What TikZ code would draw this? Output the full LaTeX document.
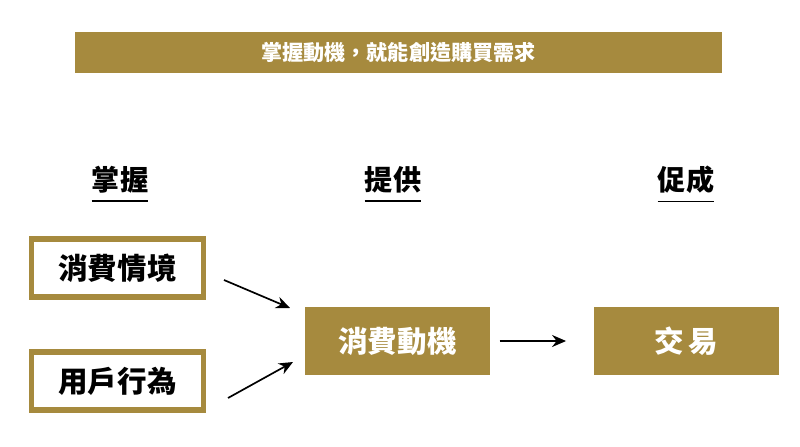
\documentclass[tikz,border=0pt]{standalone}
\usepackage{fontspec}
\setmainfont{Noto Sans CJK TC}
\usetikzlibrary{positioning,arrows.meta}
\definecolor{gold}{HTML}{A68A3E}
\tikzset{
  outbox/.style={draw=gold, line width=3.6pt, minimum width=4.3cm, minimum height=1.45cm, font=\bfseries\fontsize{21}{24}\selectfont},
  fillbox/.style={fill=gold, text=white, minimum width=4.6cm, minimum height=1.7cm, font=\bfseries\fontsize{21}{24}\selectfont},
  head/.style={font=\bfseries\fontsize{20}{24}\selectfont, inner xsep=0pt},
  arr/.style={-{Stealth[length=3.5mm,width=3mm]}, line width=1.2pt}
}
\begin{document}
\begin{tikzpicture}[x=0.025cm,y=-0.025cm]
    \useasboundingbox (0,0) rectangle (800,446);
    \node [fill=gold, text=white, minimum width=16.175cm, minimum height=1.02cm, font=\bfseries\fontsize{15}{18}\selectfont] (banner) at (398.5,52.5) {掌握動機，就能創造購買需求};

    \node [head] (h1) at (120,180) {掌握};
    \node [head] (h2) at (393,180) {提供};
    \node [head] (h3) at (686,180) {促成};
    \foreach \h in {h1,h2,h3}
        \draw [line width=1.2pt] ([yshift=-2pt]\h.south west) -- ([yshift=-2pt]\h.south east);

    \node [outbox] (scene) at (117.5,268) {消費情境};
    \node [outbox] (behave) at (117.5,381) {用戶行為};
    \node [fillbox] (motive) at (397.5,341) {消費動機};
    \node [fillbox] (deal) at (686.5,341) {交\,易};

    \coordinate (a1) at (224,280);
    \coordinate (a2) at (228,398);
    \draw [arr] (a1) -- (290,308);
    \draw [arr] (a2) -- (293,362);
    \draw [arr] ([xshift=7pt]motive.east) -- ([xshift=-20pt]deal.west);
\end{tikzpicture}
\end{document}
